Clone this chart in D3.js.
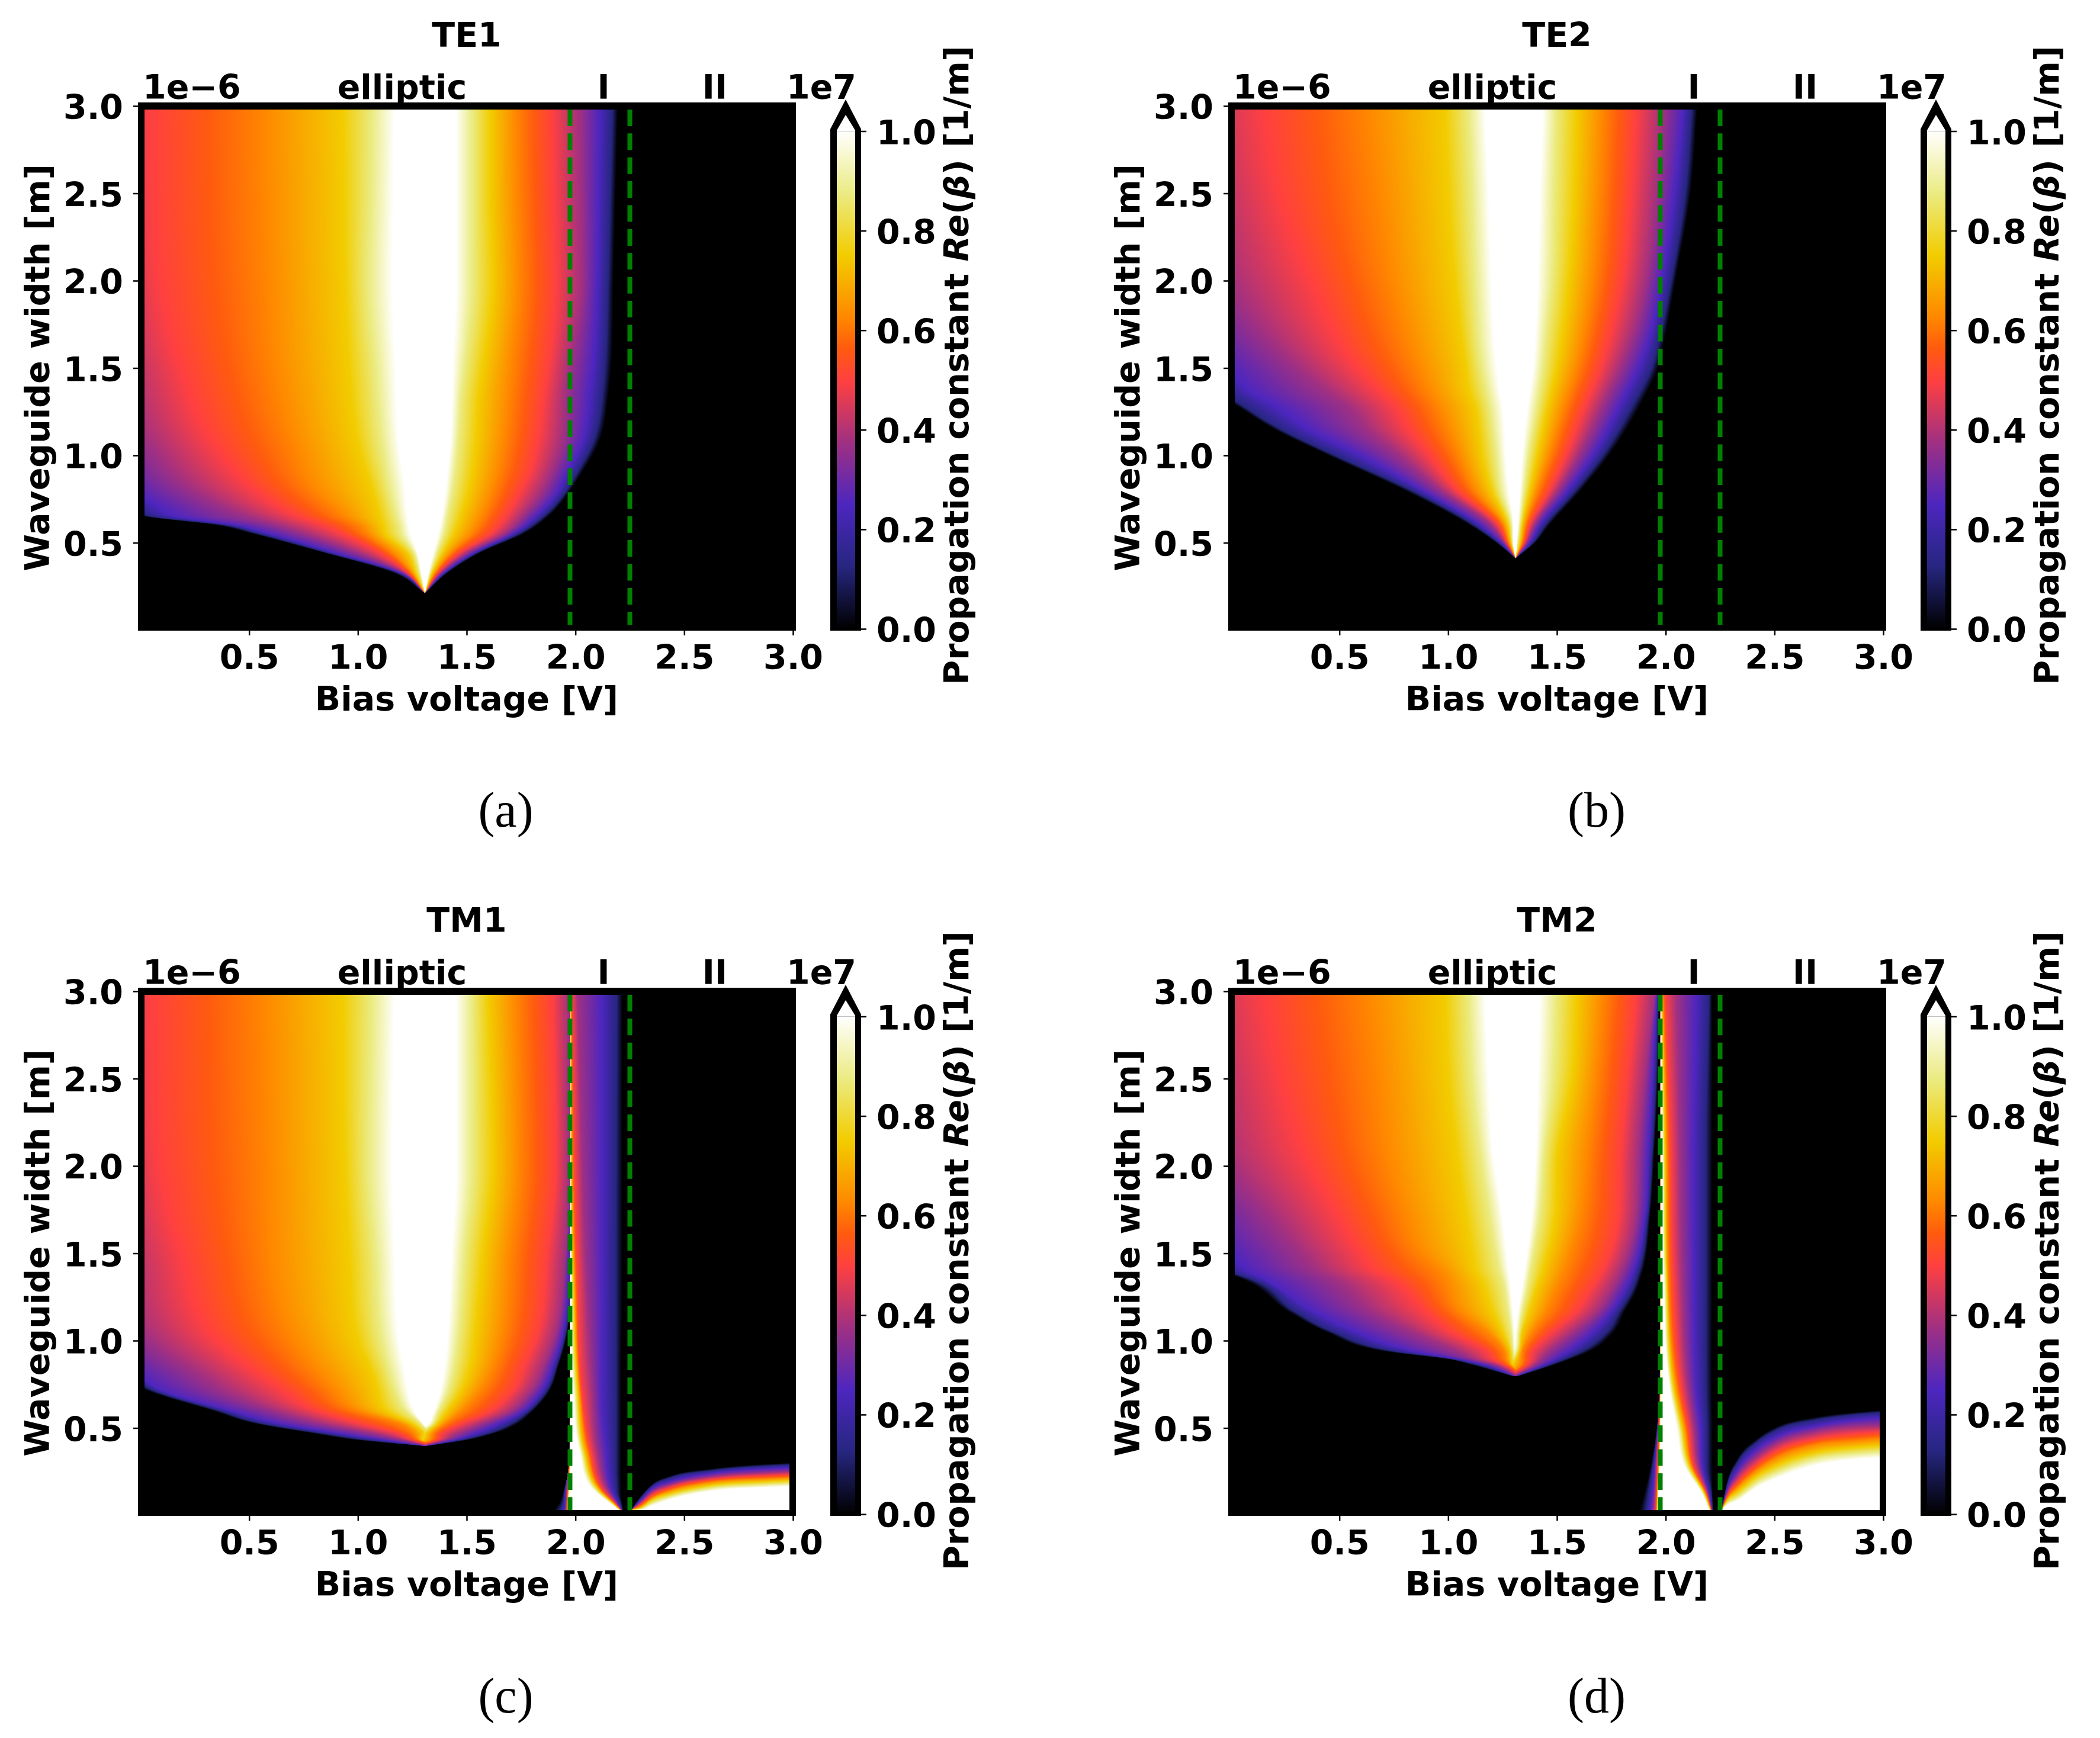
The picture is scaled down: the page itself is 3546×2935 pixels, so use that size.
<!DOCTYPE html>
<html><head><meta charset="utf-8">
<script src="https://d3js.org/d3.v7.min.js"></script>
<style>
html,body{margin:0;padding:0;background:#fff}
svg{display:block;filter:blur(0.7px)}
text{font-family:"DejaVu Sans";font-weight:bold;fill:#000}
</style></head><body>
<svg id="chart" width="3546" height="2935" viewBox="0 0 3546 2935"></svg>
<script>
// ---- iso-value levels (units of 1e7 1/m) and colour map
const isoLevels=[0,.125,.25,.375,.5,.625,.75,.875,1];
const colourStops=[0,.125,.25,.375,.5,.5625,.625,.75,.875,1];
const colourValues=["rgb(0,0,0)","rgb(38,38,128)","rgb(77,38,191)","rgb(160,48,130)","rgb(255,64,64)","rgb(255,90,15)","rgb(255,135,0)","rgb(242,204,0)","rgb(235,235,130)","rgb(255,255,255)"];
// ---- tick labels
const xTicks=[.5,1,1.5,2,2.5,3];
const yTicks=[.5,1,1.5,2,2.5,3];
const cbTicks=[0,.2,.4,.6,.8,1];
const regionBounds=[1.975,2.25];
const panelTitles=["TE1","TE2","TM1","TM2"];
const panelTags=["(a)","(b)","(c)","(d)"];

// Iso-value positions. Each row: a waveguide width; each column: the voltage at
// which the central lobe crosses isoLevels (rising side) or the levels from 1 to 0 (falling side).
const te1RiseWidths=[2.98,2.5,2,1.5,1.064,.783,.7,.65,.6,.556,.444,.329,.211];
const te1Rise=[
[-1.2,-.9,-.6,-.3,.05,.57,.93,1.065,1.17],
[-1.2,-.9,-.6,-.28,.06,.575,.935,1.06,1.165],
[-1.1,-.8,-.5,-.22,.09,.59,.94,1.05,1.16],
[-1,-.7,-.4,-.12,.19,.62,.96,1.08,1.175],
[-.8,-.5,-.25,.04,.34,.71,1,1.11,1.19],
[-.2,-.12,-.02,.27,.55,.82,1.07,1.15,1.22],
[-.1,-.05,.09,.40,.65,.895,1.09,1.165,1.225],
[.02,.05,.17,.5,.73,.94,1.1,1.175,1.23],
[.354,.39,.44,.64,.84,1.01,1.115,1.19,1.235],
[.5,.53,.58,.75,.92,1.043,1.124,1.197,1.242],
[.84,.855,.89,1,1.098,1.16,1.225,1.256,1.274],
[1.16,1.179,1.192,1.21,1.228,1.247,1.265,1.283,1.292],
[1.308,1.308,1.308,1.308,1.308,1.308,1.308,1.308,1.308]];
const te1FallWidths=[2.98,2.5,2,1.5,1.381,1.064,.895,.783,.668,.556,.444,.329,.211];
const te1Fall=[
[1.45,1.525,1.61,1.725,1.895,2.02,2.11,2.17,2.195],
[1.45,1.525,1.61,1.73,1.9,2.025,2.105,2.16,2.185],
[1.45,1.525,1.62,1.74,1.91,2.03,2.1,2.15,2.175],
[1.435,1.49,1.575,1.705,1.875,1.975,2.08,2.135,2.165],
[1.433,1.478,1.56,1.696,1.86,1.96,2.068,2.127,2.155],
[1.424,1.46,1.542,1.669,1.823,1.937,2.027,2.077,2.105],
[1.41,1.447,1.524,1.642,1.787,1.887,1.959,2.005,2.027],
[1.401,1.433,1.506,1.615,1.742,1.841,1.914,1.95,1.968],
[1.388,1.415,1.478,1.578,1.687,1.769,1.832,1.869,1.891],
[1.37,1.397,1.443,1.524,1.615,1.679,1.72,1.747,1.769],
[1.347,1.365,1.392,1.429,1.47,1.506,1.537,1.551,1.565],
[1.324,1.333,1.342,1.356,1.37,1.383,1.397,1.406,1.415],
[1.308,1.308,1.308,1.308,1.308,1.308,1.308,1.308,1.308]];

const te2RiseWidths=[2.98,2.5,2,1.5,1.35,1.29,1.15,1,.8,.6,.5,.41];
const te2Rise=[
[-1.2,-.9,-.6,-.25,.155,.63,.985,1.095,1.17],
[-1.1,-.8,-.5,-.15,.22,.68,1,1.11,1.187],
[-.9,-.6,-.35,-.02,.37,.74,1.03,1.125,1.2],
[-.14,-.08,-.01,.31,.585,.865,1.08,1.155,1.225],
[-.06,-.02,.11,.46,.7,.92,1.1,1.18,1.24],
[.02,.05,.2,.53,.75,.95,1.12,1.19,1.25],
[.2,.23,.36,.63,.82,1,1.14,1.205,1.26],
[.45,.48,.6,.78,.915,1.05,1.155,1.22,1.265],
[.8,.83,.88,.97,1.04,1.125,1.2,1.24,1.28],
[1.1,1.12,1.15,1.2,1.23,1.255,1.275,1.29,1.3],
[1.22,1.23,1.245,1.26,1.27,1.28,1.29,1.295,1.3],
[1.31,1.31,1.31,1.31,1.31,1.31,1.31,1.31,1.31]];
const te2FallWidths=[2.98,2.5,2,1.69,1.5,1.29,1,.8,.6,.5,.41];
const te2Fall=[
[1.435,1.495,1.59,1.71,1.865,1.99,2.08,2.12,2.145],
[1.42,1.485,1.58,1.695,1.84,1.96,2.04,2.09,2.115],
[1.41,1.475,1.555,1.665,1.8,1.91,1.98,2.025,2.045],
[1.4,1.45,1.525,1.625,1.745,1.85,1.93,1.975,2],
[1.39,1.435,1.5,1.59,1.7,1.79,1.875,1.935,1.965],
[1.365,1.41,1.46,1.535,1.63,1.71,1.79,1.85,1.885],
[1.34,1.37,1.41,1.465,1.54,1.6,1.665,1.71,1.74],
[1.33,1.35,1.375,1.41,1.465,1.505,1.55,1.585,1.61],
[1.32,1.33,1.34,1.355,1.375,1.395,1.42,1.445,1.465],
[1.315,1.32,1.33,1.34,1.35,1.36,1.375,1.39,1.4],
[1.31,1.31,1.31,1.31,1.31,1.31,1.31,1.31,1.31]];

const tm1RiseWidths=[2.98,2,1.5,1,.8,.72,.6,.525,.468,.433,.397];
const tm1Rise=[
[-1.2,-.9,-.6,-.3,.05,.57,.93,1.065,1.17],
[-1.1,-.8,-.5,-.22,.09,.59,.94,1.05,1.16],
[-1,-.7,-.4,-.12,.19,.6,.96,1.08,1.17],
[-.8,-.5,-.25,.05,.355,.71,1,1.11,1.19],
[-.1,-.05,-.01,.28,.555,.83,1.07,1.15,1.22],
[.02,.05,.09,.38,.65,.89,1.09,1.17,1.23],
[.33,.36,.41,.62,.81,1,1.13,1.22,1.26],
[.53,.56,.64,.84,1.013,1.195,1.249,1.29,1.3],
[.8,.84,.92,1.08,1.19,1.26,1.3,1.325,1.345],
[.98,1.03,1.11,1.204,1.249,1.281,1.294,1.33,1.36],
[1.3,1.305,1.31,1.32,1.34,1.36,1.38,1.4,1.42]];
const tm1FallWidths=[2.98,2,1.5,1,.87,.694,.58,.525,.468,.433,.397];
const tm1Fall=[
[1.45,1.525,1.6,1.725,1.895,1.97,1.975,1.98,1.985],
[1.45,1.525,1.62,1.74,1.91,1.97,1.975,1.98,1.985],
[1.43,1.49,1.575,1.7,1.87,1.955,1.97,1.98,1.985],
[1.41,1.46,1.535,1.66,1.815,1.9,1.935,1.948,1.955],
[1.4,1.445,1.52,1.63,1.77,1.86,1.9,1.917,1.926],
[1.375,1.41,1.465,1.55,1.7,1.785,1.835,1.858,1.872],
[1.345,1.365,1.4,1.46,1.585,1.68,1.74,1.77,1.79],
[1.325,1.345,1.365,1.4,1.476,1.57,1.65,1.705,1.735],
[1.275,1.29,1.315,1.345,1.385,1.458,1.54,1.595,1.625],
[1.27,1.285,1.3,1.335,1.367,1.403,1.45,1.485,1.51],
[1.2,1.22,1.24,1.26,1.28,1.3,1.31,1.315,1.318]];

const tm2RiseWidths=[2.98,2.5,2.066,1.727,1.5,1.388,1.37,1.163,1.05,.937,.891,.867,.795];
const tm2Rise=[
[-1.2,-.9,-.6,-.25,.155,.63,.985,1.095,1.17],
[-1.1,-.8,-.5,-.15,.23,.68,1,1.11,1.187],
[-.95,-.65,-.4,-.05,.34,.72,1.04,1.149,1.208],
[-.3,-.2,-.15,.17,.49,.8,1.077,1.19,1.249],
[-.14,-.08,0,.325,.6,.88,1.11,1.22,1.27],
[-.02,0,.1,.42,.68,.97,1.131,1.24,1.28],
[.02,.05,.13,.45,.71,.98,1.14,1.245,1.282],
[.27,.3,.39,.66,.9,1.06,1.204,1.276,1.298],
[.44,.47,.58,.84,1.013,1.18,1.249,1.29,1.305],
[.72,.76,.85,1.05,1.18,1.26,1.285,1.3,1.31],
[1.013,1.03,1.06,1.13,1.21,1.27,1.29,1.31,1.33],
[1.09,1.113,1.149,1.204,1.249,1.281,1.294,1.33,1.36],
[1.3,1.305,1.31,1.32,1.34,1.36,1.38,1.4,1.42]];
const tm2FallWidths=[2.98,2.5,2.066,1.727,1.388,1.275,1.163,1.05,.937,.867,.795];
const tm2Fall=[
[1.42,1.495,1.59,1.71,1.865,1.95,1.96,1.965,1.97],
[1.41,1.48,1.57,1.68,1.825,1.905,1.94,1.955,1.965],
[1.403,1.44,1.503,1.64,1.793,1.875,1.92,1.938,1.947],
[1.385,1.421,1.494,1.612,1.784,1.866,1.907,1.92,1.93],
[1.349,1.376,1.431,1.53,1.703,1.793,1.848,1.875,1.893],
[1.335,1.36,1.4,1.49,1.645,1.745,1.805,1.84,1.861],
[1.321,1.34,1.371,1.449,1.585,1.685,1.748,1.785,1.811],
[1.31,1.326,1.34,1.385,1.476,1.576,1.666,1.73,1.762],
[1.3,1.315,1.325,1.34,1.385,1.458,1.548,1.61,1.648],
[1.26,1.28,1.3,1.335,1.367,1.403,1.45,1.48,1.5],
[1.2,1.22,1.24,1.26,1.28,1.3,1.31,1.315,1.318]];

// Region I strip (TM modes only)
const tm1StripRiseWidths=[2.98,.4,.14,.06,.03];
const tm1StripRise=[
[1.973,1.9735,1.974,1.9745,1.975,1.9755,1.976,1.9765,1.977],
[1.972,1.9725,1.973,1.9735,1.974,1.9745,1.975,1.976,1.977],
[1.945,1.95,1.955,1.96,1.963,1.966,1.968,1.97,1.972],
[1.92,1.94,1.952,1.957,1.96,1.962,1.964,1.966,1.968],
[1.9,1.93,1.95,1.955,1.96,1.962,1.964,1.966,1.968]];
const tm1StripFallWidths=[2.98,1.35,.71,.37,.14,.06,.03];
const tm1StripFall=[
[1.975,1.976,1.978,1.98,1.985,2.01,2.12,2.19,2.216],
[1.98,1.985,1.99,1.998,2.01,2.05,2.123,2.185,2.216],
[1.99,2,2.01,2.02,2.03,2.077,2.12,2.186,2.21],
[2.018,2.03,2.04,2.055,2.07,2.1,2.14,2.186,2.21],
[2.087,2.1,2.11,2.12,2.13,2.15,2.168,2.19,2.21],
[2.168,2.175,2.18,2.185,2.19,2.195,2.2,2.21,2.215],
[2.2,2.203,2.206,2.208,2.21,2.212,2.214,2.216,2.22]];
const tm2StripRiseWidths=[2.98,.8,.28,.12,.03];
const tm2StripRise=[
[1.973,1.9735,1.974,1.9745,1.975,1.9755,1.976,1.9765,1.977],
[1.972,1.9725,1.973,1.9735,1.974,1.9745,1.975,1.976,1.977],
[1.93,1.94,1.95,1.955,1.962,1.966,1.968,1.97,1.972],
[1.9,1.92,1.94,1.95,1.957,1.96,1.962,1.964,1.966],
[1.88,1.91,1.93,1.945,1.955,1.958,1.96,1.962,1.965]];
const tm2StripFallWidths=[2.98,2.066,1.388,.71,.5,.28,.12,.03];
const tm2StripFall=[
[1.978,1.98,1.983,1.988,2,2.05,2.14,2.2,2.213],
[1.985,1.99,1.996,2.006,2.024,2.065,2.129,2.184,2.215],
[1.99,1.997,2.004,2.011,2.034,2.074,2.129,2.184,2.215],
[2.02,2.03,2.04,2.055,2.074,2.105,2.14,2.186,2.213],
[2.05,2.065,2.075,2.09,2.105,2.13,2.16,2.19,2.215],
[2.087,2.1,2.11,2.12,2.13,2.15,2.168,2.19,2.215],
[2.168,2.175,2.18,2.185,2.19,2.195,2.2,2.21,2.216],
[2.2,2.203,2.206,2.208,2.21,2.212,2.214,2.216,2.22]];

// Region II band (TM modes only). Each row: a voltage; each column: the width at which the band crosses
// isoLevels (from the black top edge to the white core below).
const tm1BandVolts=[2.255,2.3,2.35,2.44,2.62,2.89,2.985];
const tm1Band=[
[.03,.03,.03,.03,.03,.03,.03,.03,.03],
[.11,.1,.087,.075,.065,.053,.044,.036,.03],
[.177,.166,.149,.132,.115,.098,.087,.07,.053],
[.228,.217,.194,.177,.161,.144,.126,.109,.092],
[.266,.256,.239,.22,.205,.19,.172,.155,.138],
[.295,.284,.267,.245,.228,.211,.194,.177,.16],
[.3,.29,.272,.25,.233,.216,.2,.183,.165]];
const tm2BandVolts=[2.255,2.284,2.33,2.42,2.51,2.69,2.87,2.985];
const tm2Band=[
[.03,.03,.03,.03,.03,.03,.03,.03,.03],
[.201,.185,.156,.134,.117,.1,.088,.071,.06],
[.326,.303,.258,.224,.19,.162,.134,.105,.083],
[.439,.42,.38,.335,.295,.26,.225,.19,.16],
[.507,.49,.45,.41,.37,.33,.286,.247,.212],
[.563,.546,.512,.478,.438,.405,.36,.326,.286],
[.59,.577,.546,.507,.467,.427,.389,.354,.32],
[.603,.588,.558,.512,.478,.44,.4,.365,.33]];

// ---- layout
const PW=1841, PH=1495, FS=57;
const svg=d3.select("#chart");
svg.append("rect").attr("width",3546).attr("height",2935).attr("fill","#fff");
const colour=d3.scaleLinear().domain(colourStops).range(colourValues).clamp(true);
const LUT=d3.range(1025).map(i=>{const c=d3.color(colour(i/1024));return [c.r,c.g,c.b];});

// limited cubic curve through one iso-value column
function hermite(xs,ys){
  const n=xs.length,h=[],d=[],m=new Array(n);
  for(let i=0;i<n-1;i++){h[i]=xs[i+1]-xs[i];d[i]=(ys[i+1]-ys[i])/h[i];}
  m[0]=d[0];m[n-1]=d[n-2];
  for(let i=1;i<n-1;i++){
    if(d[i-1]*d[i]<=0){m[i]=0;continue;}
    const c=(h[i]*d[i-1]+h[i-1]*d[i])/(h[i-1]+h[i]);
    const lim=3*Math.min(Math.abs(d[i-1]),Math.abs(d[i]));
    m[i]=Math.sign(c)*Math.min(Math.abs(c),lim);
  }
  return t=>{
    if(t<=xs[0])return ys[0];
    if(t>=xs[n-1])return ys[n-1];
    const i=Math.min(n-2,d3.bisectRight(xs,t)-1);
    const s=(t-xs[i])/h[i],s2=s*s,s3=s2*s;
    return (2*s3-3*s2+1)*ys[i]+(s3-2*s2+s)*h[i]*m[i]+(-2*s3+3*s2)*ys[i+1]+(s3-s2)*h[i]*m[i+1];
  };
}
function table(keys,rows){
  const order=d3.range(keys.length).sort((a,b)=>keys[a]-keys[b]);
  const xs=order.map(i=>keys[i]);
  const fns=d3.range(rows[0].length).map(c=>hermite(xs,order.map(i=>rows[i][c])));
  return {min:xs[0],at:t=>fns.map(f=>f(t))};
}
// level at v, p = positions for isoLevels, ascending
function rising(p,v){
  if(v<=p[0])return 0;
  for(let i=1;i<p.length;i++){ if(v<=p[i]){const g=p[i]-p[i-1];return g<=0?isoLevels[i]:isoLevels[i-1]+(isoLevels[i]-isoLevels[i-1])*(v-p[i-1])/g;} }
  return 1;
}
// level at v, p = positions for isoLevels, descending
function falling(p,v){
  if(v>=p[0])return 0;
  for(let i=1;i<p.length;i++){ if(v>=p[i]){const g=p[i-1]-p[i];return g<=0?isoLevels[i]:isoLevels[i]-(isoLevels[i]-isoLevels[i-1])*(v-p[i])/g;} }
  return 1;
}

const panels=[
 {lobe:[te1RiseWidths,te1Rise,te1FallWidths,te1Fall]},
 {lobe:[te2RiseWidths,te2Rise,te2FallWidths,te2Fall]},
 {lobe:[tm1RiseWidths,tm1Rise,tm1FallWidths,tm1Fall],strip:[tm1StripRiseWidths,tm1StripRise,tm1StripFallWidths,tm1StripFall],band:[tm1BandVolts,tm1Band]},
 {lobe:[tm2RiseWidths,tm2Rise,tm2FallWidths,tm2Fall],strip:[tm2StripRiseWidths,tm2StripRise,tm2StripFallWidths,tm2StripFall],band:[tm2BandVolts,tm2Band]}
];

panels.forEach((p,k)=>{
  const ox=(k%2)*PW, oy=(k>>1)*PH;
  const x=d3.scaleLinear().domain([0,3]).range([237+ox,1339+ox]);
  const y=d3.scaleLinear().domain([0,3]).range([1064+oy,179+oy]);
  const g=svg.append("g");
  const L=233+ox,R=1344+ox,T=173+oy,B=1065+oy;
  g.append("rect").attr("x",L).attr("y",T).attr("width",R-L).attr("height",B-T).attr("fill","#000");

  // heat map cells
  const v0=.02,v1=2.984,w0=.03,w1=2.98;
  const px0=Math.round(x(v0)),px1=Math.round(x(v1)),py0=Math.round(y(w1)),py1=Math.round(y(w0));
  const W=px1-px0,H=py1-py0;
  const cv=document.createElement("canvas");cv.width=W;cv.height=H;
  const ctx=cv.getContext("2d"),img=ctx.createImageData(W,H);
  const lobeR=table(p.lobe[0],p.lobe[1]),lobeF=table(p.lobe[2],p.lobe[3]);
  const stripR=p.strip?table(p.strip[0],p.strip[1]):null,stripF=p.strip?table(p.strip[2],p.strip[3]):null;
  const band=p.band?table(p.band[0],p.band[1]):null;
  const volts=d3.range(W).map(i=>x.invert(px0+i+.5));
  const bandCols=band?volts.map(v=>v>=band.min?band.at(v):null):null;
  for(let j=0;j<H;j++){
    const wd=y.invert(py0+j+.5);
    let lr=null,lf=null,sr=null,sf=null;
    if(wd>=lobeR.min){lr=lobeR.at(wd);lf=lobeF.at(wd).reverse();}
    if(stripR){sr=stripR.at(wd);sf=stripF.at(wd).reverse();}
    for(let i=0;i<W;i++){
      const v=volts[i];let val=0;
      if(lr) val=Math.min(rising(lr,v),falling(lf,v));
      if(sr&&v>1.8&&v<2.3){
        const s=Math.min(rising(sr,v),falling(sf,v));
        if(s>val)val=s;
      }
      if(bandCols&&bandCols[i]){
        const b=falling(bandCols[i],wd);
        if(b>val)val=b;
      }
      const q=LUT[Math.max(0,Math.min(1024,Math.round(val*1024)))],o=(j*W+i)*4;
      img.data[o]=q[0];img.data[o+1]=q[1];img.data[o+2]=q[2];img.data[o+3]=255;
    }
  }
  ctx.putImageData(img,0,0);
  g.append("image").attr("x",px0).attr("y",py0).attr("width",W).attr("height",H)
    .attr("href",cv.toDataURL("image/png")).style("image-rendering","pixelated");

  // region boundaries
  g.selectAll("line.bound").data(regionBounds).join("line").attr("class","bound")
    .attr("x1",d=>x(d)).attr("x2",d=>x(d)).attr("y1",y(w1)).attr("y2",y(w0))
    .attr("stroke","#008000").attr("stroke-width",8).attr("stroke-dasharray","28 12.4");

  // axes
  const ax=g.append("g").attr("transform",`translate(0,${B})`)
    .call(d3.axisBottom(x).tickValues(xTicks).tickSize(8).tickPadding(17).tickFormat(d3.format(".1f")));
  const ay=g.append("g").attr("transform",`translate(${L},0)`)
    .call(d3.axisLeft(y).tickValues(yTicks).tickSize(8).tickPadding(17).tickFormat(d3.format(".1f")));
  [ax,ay].forEach(a=>{a.select(".domain").remove();a.attr("font-family",null).attr("font-size",null);
    a.selectAll("line").attr("stroke","#000").attr("stroke-width",2.5);
    a.selectAll("text").attr("font-size",FS);});
  ay.selectAll("text").attr("dy",".38em");

  const txt=(s,xx,yy,anchor)=>g.append("text").attr("x",xx).attr("y",yy).attr("text-anchor",anchor||"middle").attr("font-size",FS).text(s);
  txt(panelTitles[k],788+ox,79+oy);
  txt("Bias voltage [V]",788+ox,1200+oy);
  txt("1e\u22126",241+ox,167+oy,"start");
  txt("elliptic",679+ox,167+oy);
  txt("I",1019+ox,167+oy);
  txt("II",1207+ox,167+oy);
  txt("1e7",1446+ox,167+oy,"end");
  g.append("text").attr("transform",`translate(${83+ox},${621+oy}) rotate(-90)`).attr("text-anchor","middle").attr("font-size",FS).text("Waveguide width [m]");

  // colour bar
  const cb=d3.scaleLinear().domain([0,1]).range([1062+oy,221.5+oy]);
  const cx0=1402+ox,cx1=1454+ox,cxm=(cx0+cx1)/2,tip=168+oy,sh=218+oy;
  const gid="cbgrad"+k;
  const grad=g.append("linearGradient").attr("id",gid).attr("gradientUnits","userSpaceOnUse")
    .attr("x1",0).attr("x2",0).attr("y1",cb(0)).attr("y2",cb(1));
  grad.selectAll("stop").data(colourStops).join("stop").attr("offset",d=>d).attr("stop-color",d=>colour(d));
  g.append("path").attr("d",`M${cx0} ${B}V${sh}L${cxm} ${tip}L${cx1} ${sh}V${B}Z`).attr("fill","#000");
  g.append("path").attr("d",`M${cx0+11} ${cb(1)}V${sh+2}L${cxm} ${tip+26}L${cx1-10} ${sh+2}V${cb(1)}Z`).attr("fill","#fff");
  g.append("rect").attr("x",cx0+11).attr("width",cx1-cx0-21).attr("y",cb(1)).attr("height",cb(0)-cb(1)).attr("fill",`url(#${gid})`);
  const ac=g.append("g").attr("transform",`translate(${cx1},0)`)
    .call(d3.axisRight(cb).tickValues(cbTicks).tickSize(9).tickPadding(17).tickFormat(d3.format(".1f")));
  ac.select(".domain").remove();ac.attr("font-family",null).attr("font-size",null);
  ac.selectAll("line").attr("stroke","#000").attr("stroke-width",2.5);
  ac.selectAll("text").attr("font-size",FS).attr("dy",".38em");
  const cbl=g.append("text").attr("transform",`translate(${1635+ox},${617+oy}) rotate(-90)`).attr("text-anchor","middle").attr("font-size",FS);
  cbl.append("tspan").text("Propagation constant ");
  cbl.append("tspan").attr("font-style","italic").text("Re");
  cbl.append("tspan").text("(");
  cbl.append("tspan").attr("font-style","italic").text("\u03b2");
  cbl.append("tspan").text(") [1/m]");

  // sub-figure tag
  g.append("text").attr("x",(k%2?2696:854)).attr("y",(k>>1?2892:1396))
    .attr("text-anchor","middle").attr("font-size",84)
    .style("font-family","'Liberation Serif'").style("font-weight","normal").text(panelTags[k]);
});
</script>
</body></html>
